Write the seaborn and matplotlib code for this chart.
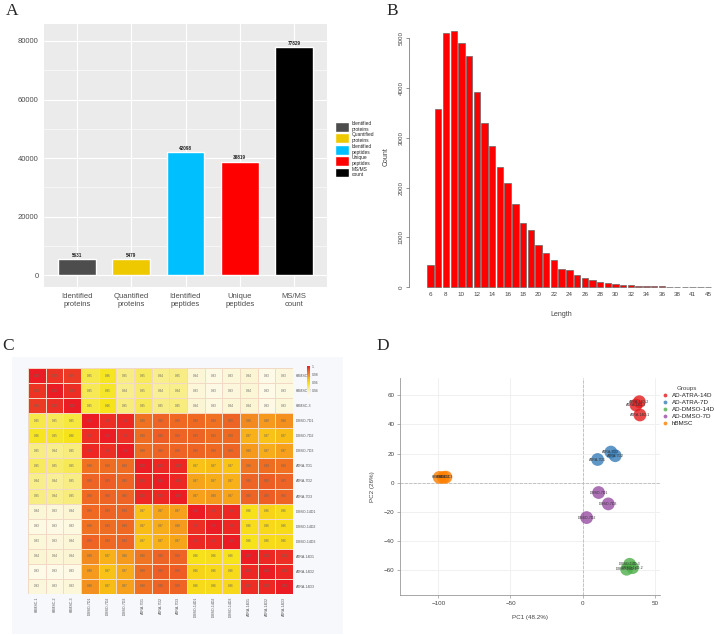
import numpy as np
import pandas as pd
import matplotlib
matplotlib.use('Agg')
import matplotlib.pyplot as plt
import seaborn as sns
from matplotlib.colors import LinearSegmentedColormap

# ---------- data ----------
# A: identification summary
summary_labels = ['Identified\nproteins', 'Quantified\nproteins', 'Identified\npeptides',
                  'Unique\npeptides', 'MS/MS\ncount']
summary_values = [5631, 5479, 42098, 38819, 77829]
summary_colors = ['#4D4D4D', '#EEC900', '#00BFFF', '#FF0000', '#000000']

# B: peptide length distribution
pep_lengths = [6, 7, 8, 9, 10, 11, 12, 13, 14, 15, 16, 17, 18, 19, 20, 21, 22, 23, 24, 25,
               26, 27, 28, 29, 30, 31, 32, 33, 34, 35, 36, 37, 38, 40, 41, 43, 45]
pep_counts = [448, 3574, 5094, 5147, 4906, 4632, 3922, 3286, 2838, 2416, 2088, 1673, 1298,
              1151, 850, 690, 542, 375, 341, 241, 194, 147, 100, 94, 67, 47, 47, 33, 33,
              20, 18, 14, 12, 8, 6, 5, 4]

# C: sample correlation (upper triangle, row by row incl. diagonal)
sample_names = ['hBMSC-1', 'hBMSC-2', 'hBMSC-3',
                'DMSO-7D1', 'DMSO-7D2', 'DMSO-7D3',
                'ATRA-7D1', 'ATRA-7D2', 'ATRA-7D3',
                'DMSO-14D1', 'DMSO-14D2', 'DMSO-14D3',
                'ATRA-14D1', 'ATRA-14D2', 'ATRA-14D3']
corr_upper = [
    [1, 0.996, 0.995, 0.952, 0.956, 0.946, 0.950, 0.945, 0.946, 0.935, 0.931, 0.934, 0.936, 0.929, 0.933],
    [1, 0.997, 0.951, 0.955, 0.945, 0.949, 0.944, 0.945, 0.934, 0.930, 0.933, 0.935, 0.929, 0.932],
    [1, 0.953, 0.957, 0.947, 0.951, 0.946, 0.947, 0.936, 0.932, 0.935, 0.936, 0.930, 0.934],
    [1, 0.997, 0.998, 0.985, 0.988, 0.987, 0.987, 0.985, 0.988, 0.979, 0.976, 0.978],
    [1, 0.997, 0.986, 0.989, 0.988, 0.988, 0.986, 0.987, 0.972, 0.968, 0.970],
    [1, 0.986, 0.988, 0.988, 0.988, 0.987, 0.988, 0.976, 0.973, 0.975],
    [1, 0.998, 0.998, 0.968, 0.970, 0.967, 0.984, 0.986, 0.985],
    [1, 0.998, 0.974, 0.973, 0.972, 0.988, 0.989, 0.988],
    [1, 0.975, 0.976, 0.974, 0.988, 0.989, 0.988],
    [1, 0.997, 0.998, 0.958, 0.962, 0.960],
    [1, 0.998, 0.959, 0.961, 0.960],
    [1, 0.957, 0.960, 0.961],
    [1, 0.998, 0.997],
    [1, 0.998],
    [1],
]

# D: PCA
pca_samples = ['ATRA-14D-2', 'ATRA-14D-3', 'ATRA-14D-1',
               'ATRA-7D3', 'ATRA-7D2', 'ATRA-7D1',
               'DMSO-7D1', 'DMSO-7D3', 'DMSO-7D2',
               'DMSO-14D-3', 'DMSO-14D-2', 'DMSO-14D-1',
               'hBMSC1', 'hBMSC2', 'hBMSC3']
pca_groups = ['AD-ATRA-14D'] * 3 + ['AD-ATRA-7D'] * 3 + ['AD-DMSO-7D'] * 3 + \
             ['AD-DMSO-14D'] * 3 + ['hBMSC'] * 3
pc1 = [39.2, 36.9, 39.6, 19.5, 22.5, 10.3, 11.0, 17.7, 2.7, 32.5, 34.5, 30.4, -99.3, -96.5, -94.7]
pc2 = [55.6, 53.3, 46.5, 21.0, 18.5, 15.9, -6.8, -14.6, -24.0, -56.1, -58.4, -59.5, 3.6, 3.6, 3.8]
group_order = ['AD-ATRA-14D', 'AD-ATRA-7D', 'AD-DMSO-14D', 'AD-DMSO-7D', 'hBMSC']
group_colors = ['#E41A1C', '#377EB8', '#4DAF4A', '#984EA3', '#FF7F00']

# ---------- figure ----------
sns.set_style('white')
plt.rcParams['font.family'] = ['Liberation Sans', 'DejaVu Sans']
W, H = 714, 636
fig = plt.figure(figsize=(W / 100, H / 100), dpi=100)


def px_axes(x0, y0, x1, y1):
    return fig.add_axes([x0 / W, 1 - y1 / H, (x1 - x0) / W, (y1 - y0) / H])


def letter(x, y, s):
    fig.text(x / W, 1 - y / H, s, fontsize=12.5, family='Liberation Serif',
             ha='center', va='center')


# ---- A ----
axA = px_axes(44, 24, 327, 287)
axA.set_facecolor('#EBEBEB')
sns.barplot(x=summary_labels, y=summary_values, hue=summary_labels, palette=summary_colors,
            width=0.7, saturation=1, legend=True, ax=axA, zorder=3)
for cont in axA.containers:
    axA.bar_label(cont, fontsize=3.3, fontweight='bold', padding=0.8, color='#222222')
axA.set_ylim(-3995, 85800)
axA.set_xlim(-0.61, 4.61)
axA.set_yticks([0, 20000, 40000, 60000, 80000])
axA.set_yticks([10000, 30000, 50000, 70000], minor=True)
axA.grid(True, which='major', color='white', lw=0.8, zorder=0)
axA.grid(True, which='minor', axis='y', color='white', lw=0.4, zorder=0)
axA.set_axisbelow(True)
for sp in axA.spines.values():
    sp.set_visible(False)
axA.tick_params(axis='both', which='major', length=2.5, width=0.5, color='#333333',
                labelsize=5.5, labelcolor='#4D4D4D', pad=1.5)
axA.tick_params(axis='y', which='minor', length=0)
axA.set_xlabel('')
axA.set_ylabel('')
hA, lA = axA.get_legend_handles_labels()
axA.legend(hA, lA, loc='upper left', bbox_to_anchor=(335 / W, 1 - 121 / H),
           bbox_transform=fig.transFigure, frameon=False, fontsize=3.5,
           handlelength=2.8, handleheight=2.7, labelspacing=0.12, handletextpad=0.6,
           borderpad=0, borderaxespad=0)
letter(12, 11, 'A')

# ---- B ----
axB = px_axes(409, 25, 714, 289)
sns.barplot(x=[str(v) for v in pep_lengths], y=pep_counts, color='#FF0000', saturation=1,
            width=0.83, edgecolor='#666666', linewidth=0.5, ax=axB)
axB.set_ylim(-34, 5261)
axB.set_xlim(-2.8, 36.77)
axB.set_yticks([0, 1000, 2000, 3000, 4000, 5000])
axB.set_xticks(range(len(pep_lengths)))
axB.set_xticklabels([str(v) if i % 2 == 0 else '' for i, v in enumerate(pep_lengths)])
for s in ['top', 'right', 'bottom']:
    axB.spines[s].set_visible(False)
axB.spines['left'].set_bounds(0, 5000)
axB.spines['left'].set_linewidth(0.5)
axB.spines['left'].set_color('#666666')
axB.tick_params(axis='y', length=2.5, width=0.5, color='#666666', labelsize=4.5,
                labelcolor='#444444', labelrotation=90, pad=1.5, left=True)
for t in axB.get_yticklabels():
    t.set_va('center')
axB.tick_params(axis='x', length=0, labelsize=4.5, labelcolor='#444444', pad=2)
axB.set_ylabel('Count', fontsize=5, color='#444444', labelpad=6)
axB.set_xlabel('Length', fontsize=5, color='#444444', labelpad=10)
letter(392, 11, 'B')

# ---- C ----
axBg = px_axes(12, 357, 343, 634)
axBg.set_facecolor('#F7F8FC')
axBg.set_xticks([])
axBg.set_yticks([])
for sp in axBg.spines.values():
    sp.set_visible(False)

n = len(sample_names)
corr = np.zeros((n, n))
for i, row in enumerate(corr_upper):
    corr[i, i:] = row
corr = corr + np.triu(corr, 1).T
corr_df = pd.DataFrame(corr, index=sample_names, columns=sample_names)

cmap = LinearSegmentedColormap.from_list('corr', [
    (0.0, '#FFFDF4'), (0.15, '#FBF5D2'), (0.3, '#F8EC78'), (0.42, '#F6E51C'),
    (0.6, '#F9BC16'), (0.72, '#F38A1F'), (0.84, '#EE6524'), (1.0, '#EC1C24')])
axC = px_axes(28, 368, 293, 594)
cbar_ax = px_axes(307, 366, 310, 397)
sns.heatmap(corr_df, ax=axC, cmap=cmap, vmin=0.925, vmax=1.0, annot=True, fmt='.2f',
            annot_kws={'fontsize': 2.2, 'color': '#666666'}, linewidths=0.4,
            linecolor='#F2D9C6', cbar_ax=cbar_ax, cbar_kws={'ticks': [0.94, 0.96, 0.98, 1.0]})
axC.yaxis.tick_right()
axC.tick_params(axis='both', length=0, labelsize=2.6, labelcolor='#555555', pad=2)
axC.set_yticklabels(sample_names, rotation=0)
axC.set_xticklabels(sample_names, rotation=90)
cbar_ax.tick_params(length=0, labelsize=2.4, labelcolor='#555555', pad=1)
cbar_ax.set_yticklabels(['0.94', '0.96', '0.98', '1'])
letter(8, 346, 'C')

# ---- D ----
pca_df = pd.DataFrame({'sample': pca_samples, 'group': pca_groups, 'PC1': pc1, 'PC2': pc2})
axD = px_axes(400, 378, 660, 595)
axD.axhline(0, color='#BBBBBB', lw=0.6, ls='--', zorder=1)
axD.axvline(0, color='#BBBBBB', lw=0.6, ls='--', zorder=1)
sns.scatterplot(data=pca_df, x='PC1', y='PC2', hue='group', hue_order=group_order,
                palette=group_colors, s=85, alpha=0.8, edgecolor='none', ax=axD, zorder=3)
for _, r in pca_df.iterrows():
    axD.text(r['PC1'], r['PC2'], r['sample'], fontsize=2.6, color='#333333',
             ha='center', va='center', zorder=4)
axD.set_xlim(-126.5, 53.5)
axD.set_ylim(-77.2, 71.9)
axD.set_xticks([-100, -50, 0, 50])
axD.set_yticks([-60, -40, -20, 0, 20, 40, 60])
axD.grid(True, color='#EEEEEE', lw=0.6, zorder=0)
axD.set_axisbelow(True)
for s in ['top', 'right']:
    axD.spines[s].set_visible(False)
for s in ['left', 'bottom']:
    axD.spines[s].set_color('#999999')
    axD.spines[s].set_linewidth(0.6)
axD.tick_params(axis='both', length=2.5, width=0.5, color='#999999', labelsize=4.5,
                labelcolor='#444444', pad=1.5, left=True, bottom=True)
axD.set_xlabel('PC1 (48.2%)', fontsize=4.5, color='#444444', labelpad=7)
axD.set_ylabel('PC2 (26%)', fontsize=4.5, color='#444444', labelpad=6)
hD, lD = axD.get_legend_handles_labels()
leg = axD.legend(hD, lD, title='Groups', loc='upper left', bbox_to_anchor=(659 / W, 1 - 386 / H),
                 bbox_transform=fig.transFigure, frameon=False, fontsize=4.5,
                 title_fontsize=4.5, markerscale=0.3, handletextpad=0.1,
                 labelspacing=0.25, borderpad=0, borderaxespad=0)
for t in leg.get_texts():
    t.set_color('#222222')
leg.get_title().set_color('#444444')
letter(383, 346, 'D')

fig.savefig('out.png', dpi=100)
